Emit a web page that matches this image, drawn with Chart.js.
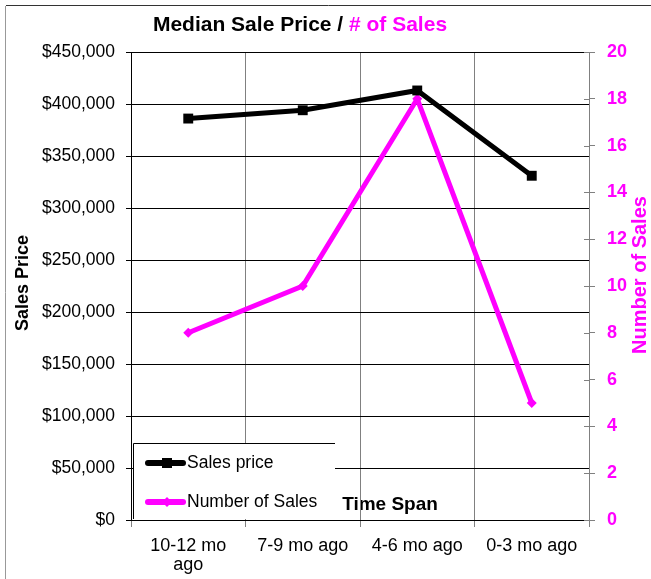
<!DOCTYPE html>
<html><head><meta charset="utf-8">
<script src="https://cdn.jsdelivr.net/npm/chart.js@4"></script>
<style>html,body{margin:0;padding:0;background:#fff;}canvas{display:block;}</style>
</head><body>
<canvas id="c" width="651" height="579"></canvas>
<script>
const categories = [["10-12 mo", "ago"], "7-9 mo ago", "4-6 mo ago", "0-3 mo ago"];
const salesPrice = [386000, 394000, 413000, 331000];
const numberOfSales = [8, 10, 18, 5];
const priceAxis = { min: 0, max: 450000, step: 50000 };
const countAxis = { min: 0, max: 20, step: 2 };
const titleParts = ["Median Sale Price / ", "# of Sales"];
const seriesNames = ["Sales price", "Number of Sales"];

const FONT = '"Liberation Sans", Arial, sans-serif';
const MAGENTA = '#ff00ff';

const deco = {
  id: 'deco',
  beforeDraw(chart) {
    const ctx = chart.ctx;
    ctx.save();
    ctx.fillStyle = '#fff';
    ctx.fillRect(0, 0, chart.width, chart.height);
    ctx.lineWidth = 1;
    ctx.strokeStyle = '#333';
    ctx.beginPath(); ctx.moveTo(6, 5.5); ctx.lineTo(chart.width, 5.5); ctx.stroke();
    ctx.strokeStyle = '#999';
    ctx.beginPath(); ctx.moveTo(5.5, 6); ctx.lineTo(5.5, chart.height); ctx.stroke();
    // title
    ctx.font = 'bold 21px ' + FONT;
    ctx.textBaseline = 'middle';
    ctx.textAlign = 'left';
    const w0 = ctx.measureText(titleParts[0]).width;
    const w1 = ctx.measureText(titleParts[1]).width;
    let x = 300 - (w0 + w1) / 2;
    ctx.fillStyle = '#000'; ctx.fillText(titleParts[0], x, 25);
    ctx.fillStyle = MAGENTA; ctx.fillText(titleParts[1], x + w0, 25);
    // x title (inside plot)
    ctx.font = 'bold 19px ' + FONT;
    ctx.fillStyle = '#000';
    ctx.textAlign = 'center';
    ctx.fillText('Time Span', 390, 505);
    // left y title
    ctx.save();
    ctx.translate(23, 283); ctx.rotate(-Math.PI / 2);
    ctx.font = 'bold 18px ' + FONT; ctx.fillStyle = '#000';
    ctx.fillText('Sales Price', 0, 0);
    ctx.restore();
    // right y title
    ctx.save();
    ctx.translate(640, 275); ctx.rotate(-Math.PI / 2);
    ctx.font = 'bold 20px ' + FONT; ctx.fillStyle = MAGENTA;
    ctx.fillText('Number of Sales', 0, 0);
    ctx.restore();
    ctx.restore();
  },
  afterDraw(chart) {
    const ctx = chart.ctx;
    const y1 = chart.scales.y1;
    ctx.save();
    // inner halves of right-axis tick marks
    ctx.strokeStyle = '#808080'; ctx.lineWidth = 1;
    for (let v = countAxis.min; v <= countAxis.max; v += countAxis.step) {
      const py = Math.round(y1.getPixelForValue(v)) + 0.5;
      ctx.beginPath(); ctx.moveTo(584, py); ctx.lineTo(y1.left, py); ctx.stroke();
    }
    // legend box
    const L = 133, T = 443, R = 335, B = 519;
    ctx.fillStyle = '#fff';
    ctx.fillRect(L, T, R - L, B - T);
    ctx.strokeStyle = '#000';
    ctx.beginPath(); ctx.moveTo(L + 0.5, B); ctx.lineTo(L + 0.5, T + 0.5); ctx.lineTo(R, T + 0.5); ctx.stroke();
    const rows = [463, 502];
    chart.data.datasets.forEach((ds, i) => {
      const yy = rows[i];
      ctx.strokeStyle = ds.borderColor; ctx.lineWidth = 6; ctx.lineCap = 'round';
      ctx.beginPath(); ctx.moveTo(148, yy); ctx.lineTo(183, yy); ctx.stroke();
      ctx.fillStyle = ds.borderColor;
      if (i === 0) { ctx.fillRect(162, yy - 5, 10, 10); }
      else { ctx.beginPath(); ctx.moveTo(167, yy - 5); ctx.lineTo(172, yy); ctx.lineTo(167, yy + 5); ctx.lineTo(162, yy); ctx.closePath(); ctx.fill(); }
      ctx.fillStyle = '#000'; ctx.font = '17.5px ' + FONT;
      ctx.textAlign = 'left'; ctx.textBaseline = 'middle';
      ctx.fillText(ds.label, 187, yy);
    });
    ctx.restore();
  }
};

new Chart(document.getElementById('c'), {
  type: 'line',
  data: {
    labels: categories,
    datasets: [
      { label: seriesNames[0], data: salesPrice, yAxisID: 'y', borderColor: '#000', backgroundColor: '#000',
        borderWidth: 5, pointStyle: 'rect', pointRadius: 7, pointBorderWidth: 0, tension: 0 },
      { label: seriesNames[1], data: numberOfSales, yAxisID: 'y1', borderColor: MAGENTA, backgroundColor: MAGENTA,
        borderWidth: 5, pointStyle: 'rectRot', pointRadius: 5, pointBorderWidth: 0, tension: 0 }
    ]
  },
  options: {
    responsive: false, animation: false, devicePixelRatio: 1,
    layout: { padding: { top: 52, left: 0, right: 0, bottom: 0 } },
    plugins: { legend: { display: false }, title: { display: false }, tooltip: { enabled: false } },
    scales: {
      x: {
        offset: true,
        grid: { offset: true, color: '#808080', tickLength: 7, lineWidth: 1 },
        border: { color: '#000' },
        ticks: { color: '#000', font: { family: FONT, size: 18, lineHeight: 1.05 }, padding: 10, maxRotation: 0, autoSkip: false },
        afterFit(s) { s.height = 59; }
      },
      y: {
        position: 'left', min: priceAxis.min, max: priceAxis.max,
        grid: { color: '#000', tickLength: 5 },
        border: { color: '#000' },
        ticks: { stepSize: priceAxis.step, color: '#000', padding: 11, font: { family: FONT, size: 17.5 },
          callback: v => '$' + Number(v).toLocaleString('en-US') },
        afterFit(s) { s.width = 131; }
      },
      y1: {
        position: 'right', min: countAxis.min, max: countAxis.max,
        grid: { drawOnChartArea: false, color: '#808080', tickLength: 6 },
        border: { color: '#808080' },
        ticks: { stepSize: countAxis.step, color: MAGENTA, padding: 12, font: { family: FONT, size: 18, weight: 'bold' } },
        afterFit(s) { s.width = 62; }
      }
    }
  },
  plugins: [deco]
});
</script>
</body></html>
